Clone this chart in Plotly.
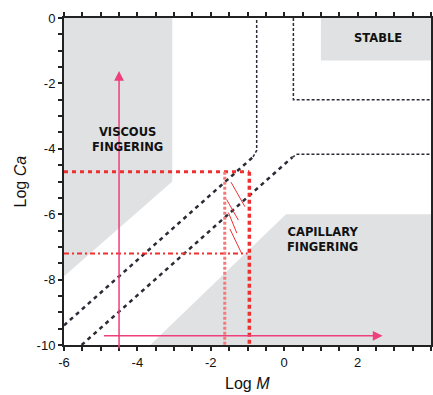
import plotly.graph_objects as go

# ---- data ----
# grey regions (polygons in Log M, Log Ca)
viscous_x = [-6, -3.05, -3.05, -6]
viscous_y = [0, 0, -5.0, -7.9]
capillary_x = [0.05, 4, 4, -3.65]
capillary_y = [-6.0, -6.0, -10, -10]
stable_x = [1.0, 4, 4, 1.0]
stable_y = [0, 0, -1.3, -1.3]

# dark dashed boundary lines
upper_diag_x = [-6, -0.85]
upper_diag_y = [-9.4, -4.25]
upper_vert_x = [-0.85, -0.75, -0.75]
upper_vert_y = [-4.25, -4.05, 0]
lower_diag_x = [-5.52, 0.22]
lower_diag_y = [-10, -4.26]
lower_horiz_x = [0.22, 0.35, 4]
lower_horiz_y = [-4.26, -4.17, -4.17]
mid_corner_x = [0.25, 0.25, 4]
mid_corner_y = [0, -2.5, -2.5]

# red reference lines
red_h1_y = -4.7
red_h1_x = [-6, -0.95]
red_h2_y = -7.2
red_h2_x = [-6, -1.0]
red_v1_x = -0.95
red_v2_x = -1.62
red_v_y = [-4.7, -10.4]

# thin red front lines
front_x0 = [-1.45, -1.57, -1.52, -1.48]
front_y0 = [-5.02, -5.55, -5.95, -6.45]
front_x1 = [-1.07, -1.25, -1.29, -1.16]
front_y1 = [-5.77, -6.18, -6.58, -7.20]

# pink arrows (tail -> head)
arrow_v = dict(x0=-4.5, y0=-10.15, x1=-4.5, y1=-1.62)
arrow_h = dict(x0=-4.95, y0=-9.72, x1=2.68, y1=-9.72)

# labels
region_text = ["VISCOUS<br>FINGERING", "CAPILLARY<br>FINGERING", "STABLE"]
region_x = [-4.28, 1.03, 2.55]
region_y = [-3.73, -6.76, -0.61]

tick_vals_x = [-6, -4, -2, 0, 2, 4]
tick_text_x = ["-6", "-4", "-2", "0", "2", "4"]
tick_vals_y = [-10, -8, -6, -4, -2, 0]
tick_text_y = ["-10", "-8", "-6", "-4", "-2", "0"]
x_title = "Log <i>M</i>"
y_title = "Log <i>Ca</i>"

GREY = "#E0E1E3"
DARK = "#2b2b36"
RED = "#EE3030"
PINK = "#EE3F7A"

fig = go.Figure()

for px, py in [(viscous_x, viscous_y), (capillary_x, capillary_y), (stable_x, stable_y)]:
    fig.add_trace(go.Scatter(x=px + [px[0]], y=py + [py[0]], fill="toself", fillcolor=GREY,
                             mode="lines", line=dict(width=0, color=GREY), hoverinfo="skip"))

for lx, ly, w, d in [(upper_diag_x, upper_diag_y, 2.5, "4px,4px"),
                     (lower_diag_x, lower_diag_y, 2.5, "4px,4px"),
                     (upper_vert_x, upper_vert_y, 1.5, "3px,2px"),
                     (lower_horiz_x, lower_horiz_y, 1.5, "3px,2px"),
                     (mid_corner_x, mid_corner_y, 1.5, "3px,2px")]:
    fig.add_trace(go.Scatter(x=lx, y=ly, mode="lines",
                             line=dict(color=DARK, width=w, dash=d), hoverinfo="skip"))

# red horizontal lines
fig.add_trace(go.Scatter(x=red_h1_x, y=[red_h1_y] * 2, mode="lines",
                         line=dict(color=RED, width=3, dash="4px,4px"), hoverinfo="skip"))
fig.add_trace(go.Scatter(x=red_h2_x, y=[red_h2_y] * 2, mode="lines",
                         line=dict(color=RED, width=2, dash="5px,3px,2px,3px"), hoverinfo="skip"))

# thin red front lines
for a, b, c, e in zip(front_x0, front_y0, front_x1, front_y1):
    fig.add_trace(go.Scatter(x=[a, c], y=[b, e], mode="lines",
                             line=dict(color=RED, width=1), hoverinfo="skip"))

# red vertical lines (extend below the axis)
fig.add_shape(type="line", xref="x", yref="y", x0=red_v1_x, x1=red_v1_x,
              y0=red_v_y[0], y1=red_v_y[1], line=dict(color=RED, width=3.5, dash="4px,3px"))
fig.add_shape(type="line", xref="x", yref="y", x0=red_v2_x, x1=red_v2_x,
              y0=red_v_y[0], y1=red_v_y[1], line=dict(color="#F37A7A", width=3, dash="3px,2px"))

# pink arrows
for a in (arrow_v, arrow_h):
    fig.add_annotation(x=a["x1"], y=a["y1"], ax=a["x0"], ay=a["y0"], xref="x", yref="y",
                       axref="x", ayref="y", text="", showarrow=True, arrowhead=2,
                       arrowsize=1.3, arrowwidth=1.5, arrowcolor=PINK, standoff=0)

for t, x, y in zip(region_text, region_x, region_y):
    fig.add_annotation(x=x, y=y, text="<b>" + t + "</b>", showarrow=False,
                       font=dict(family="DejaVu Sans", size=11.5, color="#111"))

# axis titles
fig.add_annotation(xref="paper", yref="paper", x=0, y=0.5, xshift=-44, textangle=-90,
                   xanchor="center", yanchor="middle", text=y_title, showarrow=False,
                   font=dict(family="Liberation Sans", size=16, color="#111"))
fig.add_annotation(xref="paper", yref="paper", x=0.5, y=0, yshift=-38,
                   xanchor="center", yanchor="middle", text=x_title, showarrow=False,
                   font=dict(family="Liberation Sans", size=16, color="#111"))

axis_common = dict(showgrid=False, zeroline=False, showline=True, linecolor="#222",
                   linewidth=2, mirror="allticks", ticks="outside", ticklen=4,
                   tickcolor="#222", tickwidth=1.5, automargin=False,
                   minor=dict(dtick=0.5, ticks="outside", ticklen=4, tickcolor="#222", tickwidth=1.5),
                   tickfont=dict(family="Liberation Sans", size=13, color="#111"))

fig.update_xaxes(range=[-6, 4], tickvals=tick_vals_x, ticktext=tick_text_x, **axis_common)
fig.update_yaxes(range=[-10, 0], tickvals=tick_vals_y, ticktext=tick_text_y, **axis_common)

fig.update_layout(width=433, height=395, margin=dict(l=64, r=2, t=18, b=50),
                  plot_bgcolor="white", paper_bgcolor="white", showlegend=False)

fig.write_html("out.html", config={"displayModeBar": False},
               post_script="document.body.style.margin='0';document.body.style.overflow='hidden';")
